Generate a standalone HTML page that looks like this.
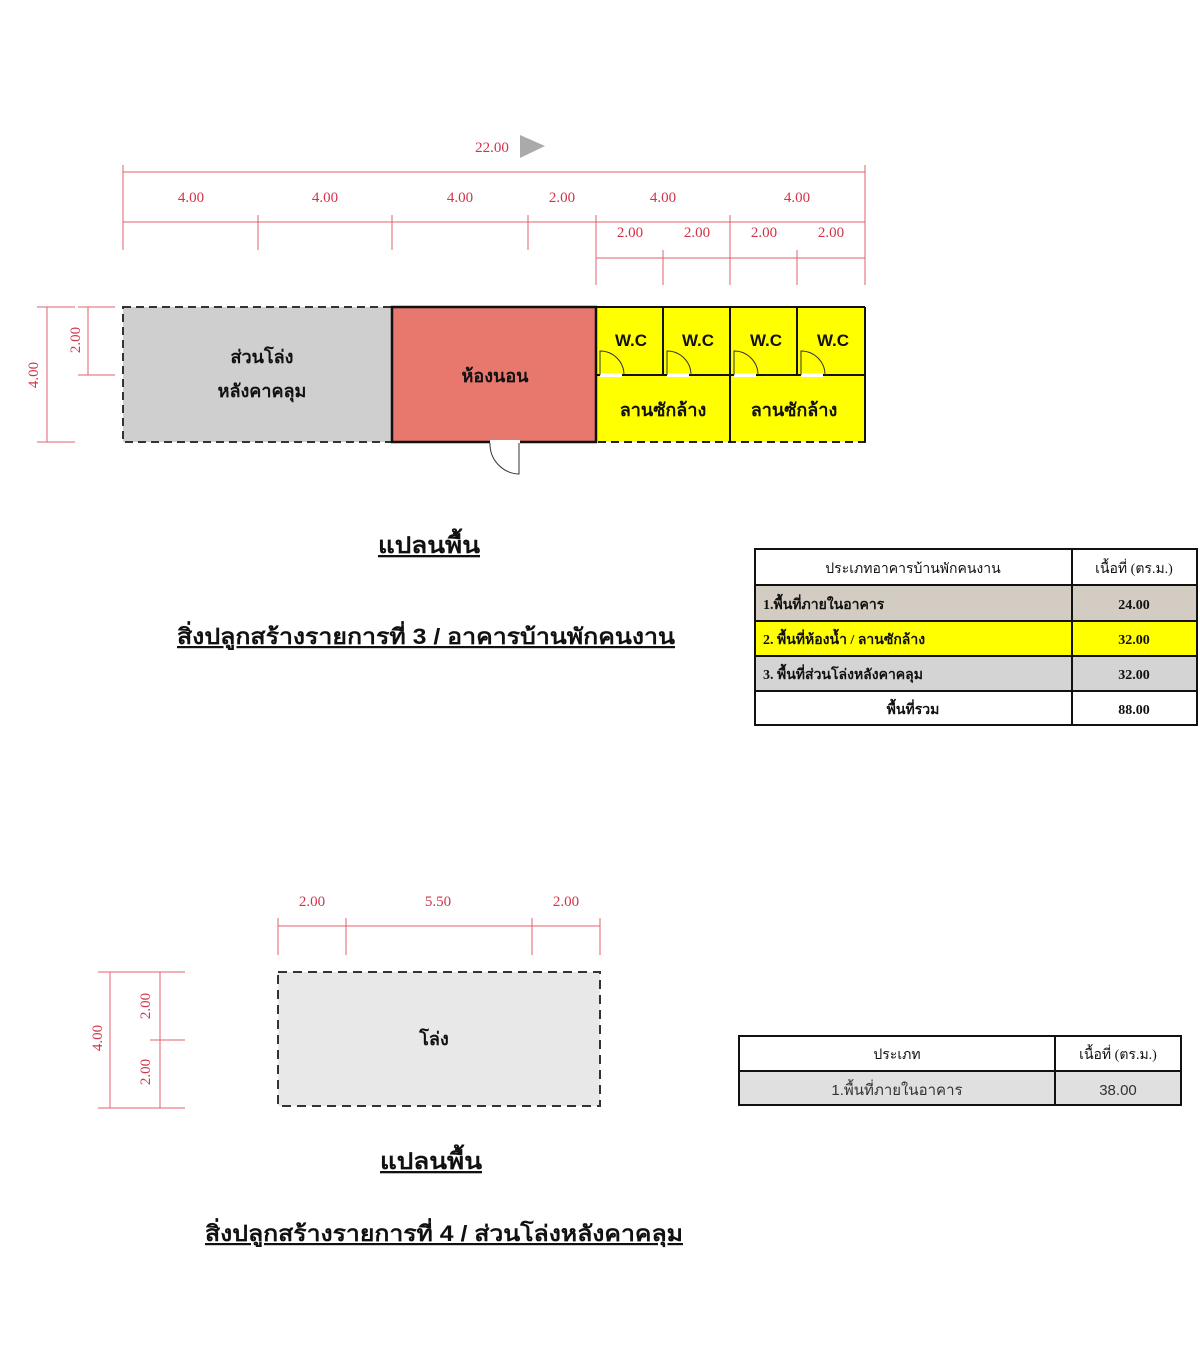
<!DOCTYPE html>
<html><head><meta charset="utf-8"><style>
html,body{margin:0;padding:0;background:#fff;}
svg{display:block;}
.d{font-family:"Liberation Serif",serif;font-size:15px;fill:#d0344a;text-anchor:middle;}
.t{font-family:"Liberation Sans","Noto Sans CJK SC",sans-serif;font-weight:bold;fill:#111;text-anchor:middle;}
.tb{font-family:"Liberation Serif","Noto Serif CJK SC",serif;font-weight:bold;font-size:14px;fill:#111;}
</style></head><body>
<svg width="1200" height="1358" viewBox="0 0 1200 1358" xmlns="http://www.w3.org/2000/svg">
<g stroke="#e0606e" stroke-width="1" fill="none">
<line x1="123" y1="172" x2="865" y2="172"/>
<line x1="123" y1="165" x2="123" y2="250"/><line x1="865" y1="165" x2="865" y2="285"/>
<line x1="123" y1="222" x2="865" y2="222"/>
<line x1="258" y1="215" x2="258" y2="250"/><line x1="392" y1="215" x2="392" y2="250"/><line x1="528" y1="215" x2="528" y2="250"/>
<line x1="596" y1="215" x2="596" y2="285"/><line x1="730" y1="215" x2="730" y2="285"/>
<line x1="596" y1="258" x2="865" y2="258"/>
<line x1="663" y1="250" x2="663" y2="285"/><line x1="797" y1="250" x2="797" y2="285"/>
<line x1="47" y1="307" x2="47" y2="442"/><line x1="37" y1="307" x2="75" y2="307"/><line x1="37" y1="442" x2="75" y2="442"/>
<line x1="88" y1="307" x2="88" y2="375"/><line x1="78" y1="307" x2="115" y2="307"/><line x1="78" y1="375" x2="115" y2="375"/>
<line x1="278" y1="926" x2="600" y2="926"/>
<line x1="278" y1="918" x2="278" y2="955"/><line x1="346" y1="918" x2="346" y2="955"/><line x1="532" y1="918" x2="532" y2="955"/><line x1="600" y1="918" x2="600" y2="955"/>
<line x1="110" y1="972" x2="110" y2="1108"/><line x1="160" y1="972" x2="160" y2="1108"/>
<line x1="98" y1="972" x2="185" y2="972"/><line x1="98" y1="1108" x2="185" y2="1108"/><line x1="150" y1="1040" x2="185" y2="1040"/>
</g>
<polygon points="520,135 545,146 520,158" fill="#aaa"/>
<text class="d" x="492" y="152">22.00</text>
<g class="d"><text x="191" y="202">4.00</text><text x="325" y="202">4.00</text><text x="460" y="202">4.00</text><text x="562" y="202">2.00</text><text x="663" y="202">4.00</text><text x="797" y="202">4.00</text>
<text x="630" y="237">2.00</text><text x="697" y="237">2.00</text><text x="764" y="237">2.00</text><text x="831" y="237">2.00</text>
<text x="312" y="906">2.00</text><text x="438" y="906">5.50</text><text x="566" y="906">2.00</text></g>
<text class="d" transform="translate(38,375) rotate(-90)">4.00</text>
<text class="d" transform="translate(80,340) rotate(-90)">2.00</text>
<text class="d" transform="translate(102,1038) rotate(-90)">4.00</text>
<text class="d" transform="translate(150,1006) rotate(-90)">2.00</text>
<text class="d" transform="translate(150,1072) rotate(-90)">2.00</text>
<rect x="123" y="307" width="269" height="135" fill="#cfcfcf" stroke="#333" stroke-width="2" stroke-dasharray="8,5"/>
<rect x="596" y="307" width="269" height="135" fill="#ffff00" stroke="#222" stroke-width="2" stroke-dasharray="8,5"/>
<rect x="392" y="307" width="204" height="135" fill="#e8776e" stroke="#111" stroke-width="2.5"/>
<g stroke="#111" stroke-width="2" fill="none">
<line x1="596" y1="307" x2="865" y2="307"/><line x1="865" y1="307" x2="865" y2="442"/>
<line x1="596" y1="375" x2="865" y2="375"/>
<line x1="663" y1="307" x2="663" y2="375"/><line x1="730" y1="307" x2="730" y2="442"/><line x1="797" y1="307" x2="797" y2="375"/>
</g>
<g stroke="#333" stroke-width="1" fill="none">
<rect x="600" y="373" width="22" height="4" fill="#fff" stroke="none"/><rect x="667" y="373" width="22" height="4" fill="#fff" stroke="none"/>
<rect x="734" y="373" width="22" height="4" fill="#fff" stroke="none"/><rect x="801" y="373" width="22" height="4" fill="#fff" stroke="none"/>
<path d="M600 375 V351 A24 24 0 0 1 624 375"/><path d="M667 375 V351 A24 24 0 0 1 691 375"/>
<path d="M734 375 V351 A24 24 0 0 1 758 375"/><path d="M801 375 V351 A24 24 0 0 1 825 375"/>
<rect x="490" y="440" width="30" height="5" fill="#fff" stroke="none"/>
<path d="M519 443 V474 A30 30 0 0 1 490 443"/>
</g>
<text class="t" x="262" y="363" font-size="18">ส่วนโล่ง</text>
<text class="t" x="262" y="397" font-size="18">หลังคาคลุม</text>
<text class="t" x="495" y="382" font-size="18">ห้องนอน</text>
<g class="t" font-size="17" font-weight="normal"><text x="631" y="346">W.C</text><text x="698" y="346">W.C</text><text x="766" y="346">W.C</text><text x="833" y="346">W.C</text></g>
<text class="t" x="663" y="416" font-size="18">ลานซักล้าง</text>
<text class="t" x="794" y="416" font-size="18">ลานซักล้าง</text>
<text class="t" x="429" y="553" font-size="23" text-decoration="underline" textLength="102" lengthAdjust="spacingAndGlyphs">แปลนพื้น</text>
<text class="t" x="426" y="644" font-size="22" text-decoration="underline" textLength="498" lengthAdjust="spacingAndGlyphs">สิ่งปลูกสร้างรายการที่ 3 / อาคารบ้านพักคนงาน</text>
<rect x="755" y="585" width="442" height="36" fill="#d2ccc2"/>
<rect x="755" y="621" width="442" height="35" fill="#ffff00"/>
<rect x="755" y="656" width="442" height="35" fill="#d4d4d4"/>
<g stroke="#111" stroke-width="2" fill="none">
<rect x="755" y="549" width="442" height="176"/>
<line x1="1072" y1="549" x2="1072" y2="725"/>
<line x1="755" y1="585" x2="1197" y2="585"/><line x1="755" y1="621" x2="1197" y2="621"/>
<line x1="755" y1="656" x2="1197" y2="656"/><line x1="755" y1="691" x2="1197" y2="691"/>
</g>
<g class="tb">
<text x="913" y="573" text-anchor="middle" font-weight="normal">ประเภทอาคารบ้านพักคนงาน</text>
<text x="1134" y="573" text-anchor="middle" font-weight="normal">เนื้อที่ (ตร.ม.)</text>
<text x="763" y="609">1.พื้นที่ภายในอาคาร</text><text x="1134" y="609" text-anchor="middle">24.00</text>
<text x="763" y="644">2. พื้นที่ห้องน้ำ / ลานซักล้าง</text><text x="1134" y="644" text-anchor="middle">32.00</text>
<text x="763" y="679">3. พื้นที่ส่วนโล่งหลังคาคลุม</text><text x="1134" y="679" text-anchor="middle">32.00</text>
<text x="913" y="714" text-anchor="middle">พื้นที่รวม</text><text x="1134" y="714" text-anchor="middle">88.00</text>
</g>
<rect x="278" y="972" width="322" height="134" fill="#e8e8e8" stroke="#333" stroke-width="2" stroke-dasharray="9,6"/>
<text class="t" x="434" y="1045" font-size="18">โล่ง</text>
<text class="t" x="431" y="1169" font-size="23" text-decoration="underline" textLength="102" lengthAdjust="spacingAndGlyphs">แปลนพื้น</text>
<text class="t" x="444" y="1241" font-size="22" text-decoration="underline" textLength="478" lengthAdjust="spacingAndGlyphs">สิ่งปลูกสร้างรายการที่ 4 / ส่วนโล่งหลังคาคลุม</text>
<rect x="739" y="1071" width="442" height="34" fill="#e0e0e0"/>
<g stroke="#111" stroke-width="2" fill="none">
<rect x="739" y="1036" width="442" height="69"/>
<line x1="1055" y1="1036" x2="1055" y2="1105"/><line x1="739" y1="1071" x2="1181" y2="1071"/>
</g>
<g class="tb">
<text x="897" y="1059" text-anchor="middle" font-weight="normal">ประเภท</text>
<text x="1118" y="1059" text-anchor="middle" font-weight="normal">เนื้อที่ (ตร.ม.)</text>
</g>
<text x="897" y="1095" text-anchor="middle" font-family="Liberation Sans, sans-serif" font-size="15" fill="#333">1.พื้นที่ภายในอาคาร</text>
<text x="1118" y="1095" text-anchor="middle" font-family="Liberation Sans, sans-serif" font-size="15" fill="#333">38.00</text>
</svg>
</body></html>
